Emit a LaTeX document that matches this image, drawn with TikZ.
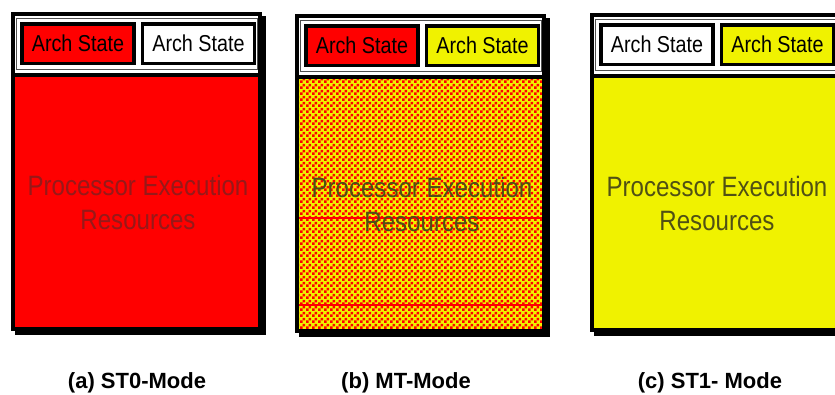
\documentclass[tikz,border=0pt]{standalone}
\usepackage{fontspec}
\setmainfont{Liberation Sans}
\newfontfamily\narrowsf[FakeStretch=0.86]{Liberation Sans}
\usetikzlibrary{patterns.meta}

\definecolor{stred}{RGB}{255,0,0}
\definecolor{styel}{RGB}{240,242,0}
\definecolor{framegray}{RGB}{80,80,80}
\definecolor{textonred}{RGB}{150,25,25}
\definecolor{textonyel}{RGB}{80,80,20}

% fine red/yellow checkerboard for the shared (MT) resources
\tikzdeclarepattern{
  name=checker,
  type=uncolored,
  bounding box={(0pt,0pt) and (6pt,6pt)},
  tile size={(6pt,6pt)},
  code={
    \fill (0pt,0pt) rectangle (3pt,3pt);
    \fill (3pt,3pt) rectangle (6pt,6pt);
  }
}

\tikzset{
  archbox/.style={draw=black, line width=3.5pt, minimum width=112pt,
    minimum height=39.5pt, inner sep=0pt,
    font=\narrowsf\fontsize{23}{26}\selectfont},
  bodytext/.style={align=center, inner sep=0pt,
    font=\narrowsf\fontsize{28}{34}\selectfont},
  modecaption/.style={font=\bfseries\fontsize{22}{26}\selectfont},
  stripe/.style={stred, line width=1.5pt},
}

% #1 name, #2/#3 top-left corner, #4/#5 state fills, #6 body fill,
% #7 text colour, #8 extra drawing on the body (under the text)
\newcommand\modepanel[8]{%
  \begin{scope}[shift={(#2,#3)}]
    \fill[black] (4,4) rectangle (255,323);
    \fill[white] (0,0) rectangle (251,319);
    \fill[#6] (4,64) rectangle (247,315);
    #8
    \draw[black, line width=4pt] (4,62.7) -- (247,62.7);
    \draw[framegray, line width=1pt] (5.5,6.5) rectangle (246.5,57);
    \node[archbox, fill=#4] (#1-s1) at (67,31.5) {Arch State};
    \node[archbox, fill=#5] (#1-s2) at (187.5,31.5) {Arch State};
    \draw[black, line width=4pt] (2,2) rectangle (249,317);
    \node[bodytext, text=#7] (#1-res) at (127,190) {Processor Execution\\Resources};
  \end{scope}
}

\begin{document}
\begin{tikzpicture}[x=1pt, y=-1pt]
  \clip (0,0) rectangle (835,394);
  \fill[white] (0,0) rectangle (835,394);

  \modepanel{st0}{11}{12}{stred}{white}{stred}{textonred}{}
  \modepanel{mt}{295}{14}{stred}{styel}%
    {preaction={fill=styel}, pattern={checker}, pattern color=stred}{textonyel}%
    {\draw[stripe] (4,204) -- (247,204);
     \draw[stripe] (4,291) -- (247,291);}
  \modepanel{st1}{590}{13}{white}{styel}{styel}{textonyel}{}

  \node[modecaption] (capa) at (137,383) {(a) ST0-Mode};
  \node[modecaption] (capb) at (406,383) {(b) MT-Mode};
  \node[modecaption] (capc) at (710,383) {(c) ST1- Mode};
\end{tikzpicture}
\end{document}
